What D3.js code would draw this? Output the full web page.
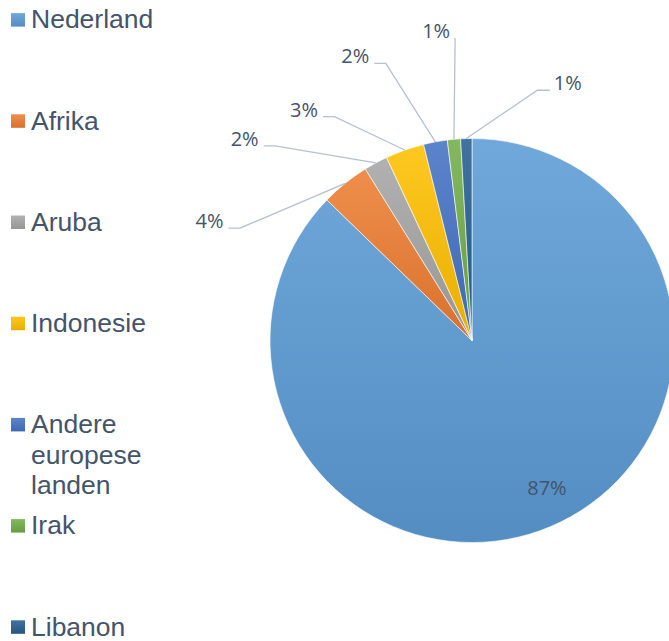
<!DOCTYPE html>
<html><head><meta charset="utf-8">
<script src="https://cdn.jsdelivr.net/npm/d3@7"></script>
<style>html,body{margin:0;padding:0;background:#fff;overflow:hidden}</style>
</head><body>
<svg id="c" width="669" height="641"></svg>
<script>
// ---- data ----
const categories = ["Nederland", "Afrika", "Aruba", "Indonesie", "Andere europese landen", "Irak", "Libanon"];
const legendLines = [["Nederland"], ["Afrika"], ["Aruba"], ["Indonesie"], ["Andere", "europese", "landen"], ["Irak"], ["Libanon"]];
const values = [87.2, 3.9, 1.9, 3.1, 1.9, 1.05, 0.9];
const labelTexts = ["87%", "4%", "2%", "3%", "2%", "1%", "1%"];
const colors = ["#5B9BD5", "#ED7D31", "#A5A5A5", "#FFC000", "#4472C4", "#70AD47", "#255E91"];

// ---- layout (label placement, polar: degrees clockwise from top, distance) ----
const labelPolar = [[153, 165], [294.5, 288.5], [311.6, 304], [324, 285.8], [337.7, 307.5], [353.4, 312], [20.4, 274.8]];

const W = 669, H = 641;
const cx = 472, cy = 340.5, R = 202;
const textColor = "#44546A";

const svg = d3.select("#c");
const defs = svg.append("defs");
colors.forEach((c, i) => {
  const g = defs.append("linearGradient").attr("id", "g" + i)
    .attr("x1", 0).attr("y1", 0).attr("x2", 0).attr("y2", 1);
  g.append("stop").attr("offset", "0%").attr("stop-color", d3.interpolateRgb(c, "#fff")(0.13));
  g.append("stop").attr("offset", "100%").attr("stop-color", d3.interpolateRgb(c, "#000")(0.09));
});

const pie = d3.pie().sort(null).value(d => d)(values);
const arc = d3.arc().innerRadius(0).outerRadius(R);
const gp = svg.append("g").attr("transform", `translate(${cx},${cy})`);
gp.selectAll("path").data(pie).join("path")
  .attr("d", arc)
  .attr("fill", (d, i) => `url(#g${i})`)
  .attr("stroke", "#fff").attr("stroke-width", 0.6);

const rad = a => a * Math.PI / 180;
const polar = (angDeg, r) => [Math.sin(rad(angDeg)) * r, -Math.cos(rad(angDeg)) * r];

// labels
const gl = svg.append("g").attr("transform", `translate(${cx},${cy})`);
pie.forEach((d, i) => {
  const [lx, ly] = polar(labelPolar[i][0], labelPolar[i][1]);
  const t = gl.append("text").attr("x", lx).attr("y", ly + 7.3)
    .attr("text-anchor", "middle")
    .attr("font-family", "'Open Sans', sans-serif").attr("font-size", 20)
    .attr("fill", textColor).text(labelTexts[i]);
  if (i === 0) return;
  const w = t.node().getComputedTextLength();
  const mid = (d.startAngle + d.endAngle) / 2;
  const ex = Math.sin(mid) * R, ey = -Math.cos(mid) * R;
  const lineY = ly + 7.3;
  let pts;
  if (lx < ex) {
    const sx = lx + w / 2 + 5;
    if (ex - sx < 14) pts = [[sx, lineY], [ex, ey]];
    else pts = [[sx, lineY], [sx + 11.5, lineY], [ex, ey]];
  } else {
    const sx = lx - w / 2 - 4;
    pts = [[sx, lineY], [sx - 12.5, lineY], [ex, ey]];
  }
  gl.insert("path", "text").attr("d", d3.line()(pts))
    .attr("fill", "none").attr("stroke", "#B6C1CF").attr("stroke-width", 1.3);
});

// legend
const ly = d3.scalePoint().domain(categories).range([28.3, 635.5]);
const gLeg = svg.append("g");
categories.forEach((c, i) => {
  const y = ly(c);
  gLeg.append("rect").attr("x", 11).attr("y", y - 15.2).attr("width", 14).attr("height", 13.5)
    .attr("fill", `url(#g${i})`);
  const t = gLeg.append("text").attr("x", 31).attr("y", y)
    .attr("font-family", "'Liberation Sans', Arial, sans-serif").attr("font-size", 26.5)
    .attr("fill", textColor);
  legendLines[i].forEach((s, j) => {
    t.append("tspan").attr("x", 31).attr("y", y + j * 30.4).text(s);
  });
});
</script>
</body></html>
